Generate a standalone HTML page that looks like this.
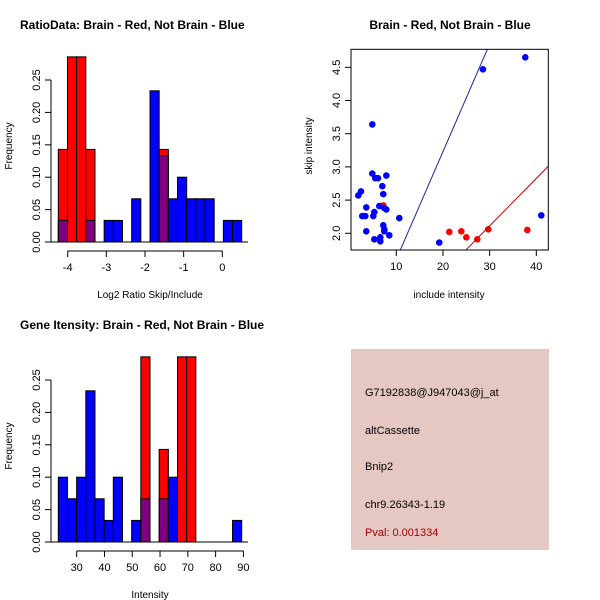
<!DOCTYPE html>
<html><head><meta charset="utf-8"><style>
body{margin:0;background:#fff}
svg{display:block;font-family:"Liberation Sans",sans-serif}
</style></head><body>
<svg id="c" width="600" height="600" viewBox="0 0 600 600">
<rect width="600" height="600" fill="#fff"/>
<g id="p1"></g>
<g id="p2"></g>
<g id="p3"></g>
<g id="p4">
<rect x="351" y="349" width="198" height="201" fill="#e6c8c2"/>
<text x="365" y="396" font-size="11" fill="#000">G7192838@J947043@j_at</text>
<text x="365" y="434" font-size="11" fill="#000">altCassette</text>
<text x="365" y="470" font-size="11" fill="#000">Bnip2</text>
<text x="365" y="508" font-size="11" fill="#000">chr9.26343-1.19</text>
<text x="365" y="536" font-size="11" fill="#a00000">Pval: 0.001334</text>
</g>
</svg>
<script>
// Histogram 1 data (20 bins)
const ratioRed = [0.1429,0.2857,0.2857,0.1429,0,0,0,0,0,0,0,0.1429,0,0,0,0,0,0,0,0];
const ratioBlue = [0.0333,0,0,0.0333,0,0.0333,0.0333,0,0.0667,0,0.2333,0.1333,0.0667,0.1,0.0667,0.0667,0.0667,0,0.0333,0.0333];
const ratioTicks = [-4,-3,-2,-1,0];
// Histogram 2 data
const intRed = [0,0,0,0,0,0,0,0,0,0.2857,0,0.1429,0,0.2857,0.2857,0,0,0,0,0];
const intBlue = [0.1,0.0667,0.1,0.2333,0.0667,0.0333,0.1,0,0.0333,0.0667,0,0.0667,0.1,0,0,0,0,0,0,0.0333];
const intTicks = [30,40,50,60,70,80,90];
const freqTicks = [0,0.05,0.10,0.15,0.20,0.25];
// Scatter data
const blueX = [1.86,2.43,2.71,3.36,3.57,3.57,4.86,4.86,5.07,5.29,5.29,5.5,6.07,6.36,6.57,6.57,7.0,7.21,7.21,7.43,7.43,7.43,7.86,7.86,8.5,10.64,19.2,28.57,37.64,41.07];
const blueY = [2.57,2.63,2.26,2.26,2.39,2.03,3.64,2.90,2.26,2.32,1.91,2.83,2.83,2.41,1.94,1.88,2.71,2.59,2.12,2.06,2.03,2.38,2.36,2.87,1.97,2.23,1.86,4.47,4.65,2.27];
const redX = [7.21,21.36,23.93,25.0,27.36,29.71,38.07];
const redY = [2.42,2.02,2.03,1.94,1.91,2.06,2.05];
const blueLine = [-0.01,0.162];
const redLine = [-0.033,0.0715];
const scX = [10,20,30,40];
const scY = [2.0,2.5,3.0,3.5,4.0,4.5];

const NS="http://www.w3.org/2000/svg";
function mk(parent,tag,attrs,name,text){
  const e=document.createElementNS(NS,tag);
  for(const k in attrs)e.setAttribute(k,attrs[k]);
  
  
  if(text!==undefined)e.textContent=text;
  parent.appendChild(e);return e;
}
function hist(g,oy,red,blue,xt,xs,x0v,x0p,title,xlab){
  const y0=oy+242, ys=648, px0=58.3, pw=9.17;
  const Y=v=>y0-v*ys, X=v=>x0p+(v-x0v)*xs;
  mk(g,'text',{x:20,y:oy+29,'font-size':12,'font-weight':'bold'},'plot-title',title);
  for(let i=0;i<red.length;i++){
    const x=px0+i*pw, r=red[i], b=blue[i];
    const hi=Math.max(r,b), lo=Math.min(r,b);
    if(hi>0) mk(g,'rect',{x:x,y:Y(hi),width:pw,height:Y(0)-Y(hi),fill:r>=b?'#ff0000':'#0000ff',stroke:'#000','stroke-width':1},'bar-'+i);
    if(lo>0) mk(g,'rect',{x:x,y:Y(lo),width:pw,height:Y(0)-Y(lo),fill:'#7f007f',stroke:'#000','stroke-width':1},'overlap-bar-'+i);
  }
  mk(g,'line',{x1:51,y1:y0,x2:248,y2:y0,stroke:'#000'},'baseline');
  mk(g,'line',{x1:51,y1:Y(0),x2:51,y2:Y(0.25),stroke:'#000'},'y-axis');
  freqTicks.forEach(t=>{
    mk(g,'line',{x1:45,y1:Y(t),x2:51,y2:Y(t),stroke:'#000'},'y-tick');
    mk(g,'text',{x:40,y:Y(t),'font-size':11,'text-anchor':'middle',transform:`rotate(-90 40 ${Y(t)})`},'y-tick-label',t.toFixed(2));
  });
  mk(g,'text',{x:12,y:oy+146,'font-size':10,'text-anchor':'middle',transform:`rotate(-90 12 ${oy+146})`},'y-axis-title','Frequency');
  const xa=oy+251;
  mk(g,'line',{x1:X(xt[0]),y1:xa,x2:X(xt[xt.length-1]),y2:xa,stroke:'#000'},'x-axis');
  xt.forEach(t=>{
    mk(g,'line',{x1:X(t),y1:xa,x2:X(t),y2:xa+6,stroke:'#000'},'x-tick');
    mk(g,'text',{x:X(t),y:xa+20,'font-size':11,'text-anchor':'middle'},'x-tick-label',String(t));
  });
  mk(g,'text',{x:150,y:oy+298,'font-size':10,'text-anchor':'middle'},'x-axis-title',xlab);
}
hist(document.getElementById('p1'),0,ratioRed,ratioBlue,ratioTicks,38.65,-4,67.7,'RatioData: Brain - Red, Not Brain - Blue','Log2 Ratio Skip/Include');
hist(document.getElementById('p3'),300,intRed,intBlue,intTicks,2.778,30,76.7,'Gene Itensity: Brain - Red, Not Brain - Blue','Intensity');

(function(){
  const g=document.getElementById('p2');
  const L=351,R=548.3,T=49.3,B=250;
  const X=v=>396.3+(v-10)*4.667, Y=v=>233.3-(v-2)*66.4;
  mk(g,'text',{x:450,y:29,'font-size':12,'font-weight':'bold','text-anchor':'middle'},'plot-title','Brain - Red, Not Brain - Blue');
  const defs=mk(g,'defs',{},'defs');
  const cp=mk(defs,'clipPath',{id:'clip'},'clip');
  mk(cp,'rect',{x:L,y:T,width:R-L,height:B-T},'clip-rect');
  for(let i=0;i<redX.length;i++) mk(g,'circle',{cx:X(redX[i]),cy:Y(redY[i]),r:3.3,fill:'#ff0000'},'red-point');
  for(let i=0;i<blueX.length;i++) mk(g,'circle',{cx:X(blueX[i]),cy:Y(blueY[i]),r:3.3,fill:'#0000ff'},'blue-point');
  const lg=mk(g,'g',{'clip-path':'url(#clip)'},'fit-lines');
  const xa=0,xb=50;
  mk(lg,'line',{x1:X(xa),y1:Y(blueLine[0]+blueLine[1]*xa),x2:X(xb),y2:Y(blueLine[0]+blueLine[1]*xb),stroke:'#2020a0','stroke-width':1},'blue-fit-line');
  mk(lg,'line',{x1:X(xa),y1:Y(redLine[0]+redLine[1]*xa),x2:X(xb),y2:Y(redLine[0]+redLine[1]*xb),stroke:'#c00000','stroke-width':1},'red-fit-line');
  mk(g,'rect',{x:L,y:T,width:R-L,height:B-T,fill:'none',stroke:'#000'},'plot-box');
  scX.forEach(t=>{
    mk(g,'line',{x1:X(t),y1:B,x2:X(t),y2:B+6,stroke:'#000'},'x-tick');
    mk(g,'text',{x:X(t),y:B+20,'font-size':11,'text-anchor':'middle'},'x-tick-label',String(t));
  });
  scY.forEach(t=>{
    mk(g,'line',{x1:L-6,y1:Y(t),x2:L,y2:Y(t),stroke:'#000'},'y-tick');
    mk(g,'text',{x:L-11,y:Y(t),'font-size':11,'text-anchor':'middle',transform:`rotate(-90 ${L-11} ${Y(t)})`},'y-tick-label',t.toFixed(1));
  });
  mk(g,'text',{x:449,y:298,'font-size':10,'text-anchor':'middle'},'x-axis-title','include intensity');
  mk(g,'text',{x:312,y:146,'font-size':10,'text-anchor':'middle',transform:'rotate(-90 312 146)'},'y-axis-title','skip intensity');
})();
</script>
</body></html>
